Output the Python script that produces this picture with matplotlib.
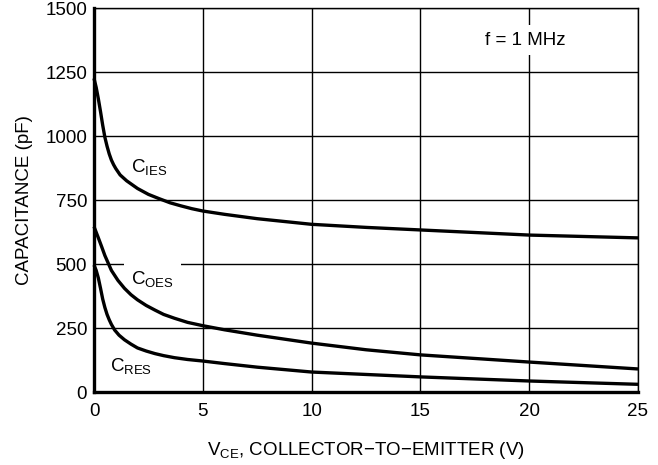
import numpy as np
import matplotlib
matplotlib.use("Agg")
import matplotlib.pyplot as plt

plt.rcParams['font.family'] = ['Liberation Sans', 'DejaVu Sans']
plt.rcParams['mathtext.fontset'] = 'custom'
plt.rcParams['mathtext.rm'] = 'Liberation Sans'

# values (V_CE in volts, capacitance in pF)
v_ies = [0, 0.1, 0.2, 0.3, 0.4, 0.5, 0.6, 0.7, 0.8, 0.9, 1.0, 1.2, 1.5, 2.0, 2.5, 3.0,
         3.5, 4.0, 4.5, 5.0, 6.0, 7.5, 10, 12.5, 15, 20, 25]
c_ies = [1225, 1190, 1145, 1095, 1042, 995, 960, 930, 906, 888, 873, 848, 825, 795, 772, 755,
         739, 727, 716, 707, 694, 677, 655, 643, 633, 613, 602]

v_oes = [0, 0.2, 0.35, 0.5, 0.8, 1.1, 1.4, 1.7, 2.0, 2.4, 2.8, 3.2, 3.7, 4.3, 5.0, 6.0,
         7.5, 10, 12.5, 15, 20, 25]
c_oes = [646, 602, 568, 533, 475, 436, 405, 380, 360, 338, 320, 303, 288, 272, 259, 243,
         222, 191, 165, 145, 117, 90]

v_res = [0, 0.1, 0.2, 0.3, 0.4, 0.5, 0.6, 0.7, 0.8, 0.95, 1.15, 1.4, 1.7, 2.0, 2.4, 2.8,
         3.2, 3.7, 4.3, 5.0, 6.0, 7.5, 10, 15, 20, 25]
c_res = [496, 475, 445, 405, 363, 330, 303, 282, 264, 242, 222, 204, 187, 172, 160, 150,
         142, 134, 127, 121, 111, 97, 78, 59, 43, 30]

x_ticks = [0, 5, 10, 15, 20, 25]
y_ticks = [0, 250, 500, 750, 1000, 1250, 1500]

fs = 13.5

fig = plt.figure(figsize=(6.58, 4.65), dpi=100)
ax = fig.add_axes([94/658, 1 - 392/465, (638 - 94)/658, (392 - 8)/465])

ax.set_xlim(0, 25)
ax.set_ylim(0, 1500)
ax.set_xticks(x_ticks)
ax.set_yticks(y_ticks)
ax.grid(True, color='black', linewidth=1.0)
ax.tick_params(length=0, labelsize=fs)
ax.tick_params(axis='x', pad=8)
ax.tick_params(axis='y', pad=5)

for s in ['top', 'right']:
    ax.spines[s].set_linewidth(1.0)
for s in ['left', 'bottom']:
    ax.spines[s].set_linewidth(2.4)

lw = 2.4
for v, c in [(v_ies, c_ies), (v_oes, c_oes), (v_res, c_res)]:
    ax.plot(v, c, color='black', lw=lw, solid_capstyle='butt', clip_on=False, zorder=4)

box = dict(facecolor='white', edgecolor='none', pad=5)
ax.text(1.7, 875, r'C$_{\mathregular{IES}}$', fontsize=fs, va='center', zorder=3)
ax.text(1.7, 437, r'C$_{\mathregular{OES}}$', fontsize=fs, va='center', bbox=box, zorder=3)
ax.text(0.72, 99, r'C$_{\mathregular{RES}}$', fontsize=fs, va='center', zorder=3)
ax.text(17.95, 1375, 'f = 1 MHz', fontsize=fs, va='center', bbox=box, zorder=3)

ax.set_ylabel('CAPACITANCE (pF)', fontsize=fs, labelpad=9)
ax.set_xlabel('V$_{\\mathregular{CE}}$, COLLECTOR\u2212TO\u2212EMITTER (V)', fontsize=fs, labelpad=14)

fig.savefig('out.png', dpi=100)
